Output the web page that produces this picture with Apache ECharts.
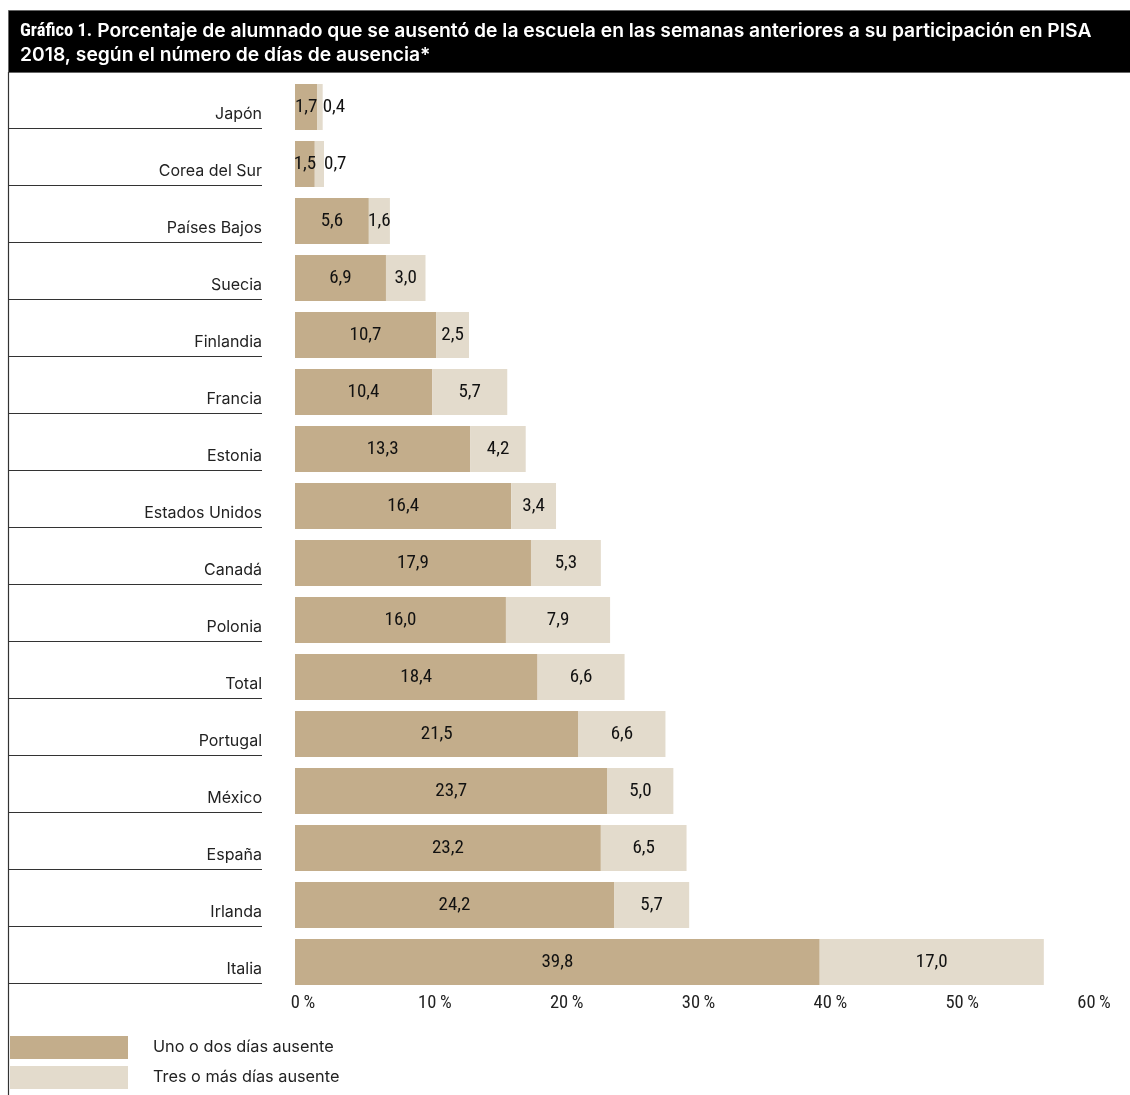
<!DOCTYPE html>
<html>
<head>
<meta charset="utf-8">
<script src="https://cdn.jsdelivr.net/npm/echarts@6/dist/echarts.min.js"></script>
<style>
  html, body { margin: 0; padding: 0; background: #fff; }
  #chart { width: 1130px; height: 1095px; }
</style>
</head>
<body>
<div id="chart"></div>
<script>
// Countries, top to bottom
const categories = ['Japón', 'Corea del Sur', 'Países Bajos', 'Suecia', 'Finlandia', 'Francia',
  'Estonia', 'Estados Unidos', 'Canadá', 'Polonia', 'Total', 'Portugal', 'México', 'España',
  'Irlanda', 'Italia'];
// % of students absent one or two days
const oneOrTwoDays = [1.7, 1.5, 5.6, 6.9, 10.7, 10.4, 13.3, 16.4, 17.9, 16.0, 18.4, 21.5, 23.7, 23.2, 24.2, 39.8];
// % of students absent three or more days
const threeOrMoreDays = [0.4, 0.7, 1.6, 3.0, 2.5, 5.7, 4.2, 3.4, 5.3, 7.9, 6.6, 6.6, 5.0, 6.5, 5.7, 17.0];
// x axis ticks (percent)
const xTicks = [0, 10, 20, 30, 40, 50, 60];

const seriesNames = ['Uno o dos días ausente', 'Tres o más días ausente'];
const colors = ['#c3ad8b', '#e3dbcc'];
const narrowFont = '"Liberation Sans Narrow", "Roboto Condensed", Roboto, sans-serif';
const labelFont = 'Inter, Roboto, sans-serif';

const fmt = v => v.toFixed(1).replace('.', ',');

const chart = echarts.init(document.getElementById('chart'), null, { renderer: 'canvas' });

function valueLabel(value) {
  // very thin segments get their label beside the bar
  return value < 1
    ? { show: true, position: 'right', distance: 0 }
    : { show: true, position: 'inside' };
}

const option = {
  animation: false,
  title: {
    left: 20,
    top: 19,
    padding: 0,
    text: '{a|Gráfico 1.} {b|Porcentaje de alumnado que se ausentó de la escuela en las semanas anteriores a su participación en PISA}\n{b|2018, según el número de días de ausencia*}',
    textStyle: {
      rich: {
        a: { fontFamily: narrowFont, fontSize: 18.5, color: '#fff', lineHeight: 24 },
        b: { fontFamily: 'Inter, Roboto, sans-serif', fontWeight: 600, fontSize: 19.3, color: '#fff', lineHeight: 24 }
      }
    }
  },
  legend: {
    orient: 'vertical',
    left: 10,
    top: 1036,
    height: 80,
    padding: 0,
    icon: 'rect',
    itemWidth: 118,
    itemHeight: 23,
    itemGap: 7,
    data: seriesNames,
    textStyle: { fontFamily: labelFont, fontSize: 16.3, color: '#222', padding: [4, 0, 0, 20] }
  },
  grid: { left: 295, right: 44, top: 78.5, height: 912, containLabel: false },
  xAxis: {
    type: 'value',
    min: xTicks[0],
    max: xTicks[xTicks.length - 1],
    interval: 10,
    axisLine: { show: false },
    axisTick: { show: false },
    splitLine: { show: false },
    axisLabel: {
      margin: 3,
      fontFamily: narrowFont,
      fontSize: 18.5,
      color: '#222',
      padding: [0, 0, 0, 16],
      formatter: v => v + '\u2009%'
    }
  },
  yAxis: {
    type: 'category',
    inverse: true,
    data: categories,
    axisLine: { show: false },
    axisTick: { show: false },
    axisLabel: {
      margin: 33,
      fontFamily: labelFont,
      fontSize: 16,
      color: '#222',
      verticalAlign: 'top',
      lineHeight: 15
    }
  },
  series: [
    {
      name: seriesNames[0],
      type: 'bar',
      stack: 'total',
      barWidth: 46,
      itemStyle: { color: colors[0] },
      label: {
        show: true, position: 'inside', fontFamily: narrowFont, fontSize: 19, color: '#111',
        formatter: p => fmt(p.value)
      },
      data: oneOrTwoDays.map(v => ({ value: v, label: valueLabel(v) }))
    },
    {
      name: seriesNames[1],
      type: 'bar',
      stack: 'total',
      barWidth: 46,
      itemStyle: { color: colors[1] },
      label: {
        show: true, position: 'inside', fontFamily: narrowFont, fontSize: 19, color: '#111',
        formatter: p => fmt(p.value)
      },
      data: threeOrMoreDays.map(v => ({ value: v, label: valueLabel(v) }))
    }
  ]
};

chart.setOption(option);

// Header band, left rule and row underlines, placed from the category scale
function decorations() {
  const els = [
    { type: 'rect', z: -1, shape: { x: 8.5, y: 10.5, width: 1130, height: 62 },
      style: { fill: '#000', stroke: '#666', lineWidth: 1 } },
    { type: 'line', shape: { x1: 8.5, y1: 72, x2: 8.5, y2: 1095 },
      style: { stroke: '#333', lineWidth: 1.2 } }
  ];
  categories.forEach(c => {
    const y = Math.round(chart.convertToPixel({ yAxisIndex: 0 }, c) + 21) + 0.5;
    els.push({ type: 'line', shape: { x1: 9, y1: y, x2: 262, y2: y },
      style: { stroke: '#333', lineWidth: 1 } });
  });
  chart.setOption({ graphic: { elements: els } });
}
decorations();
</script>
</body>
</html>
